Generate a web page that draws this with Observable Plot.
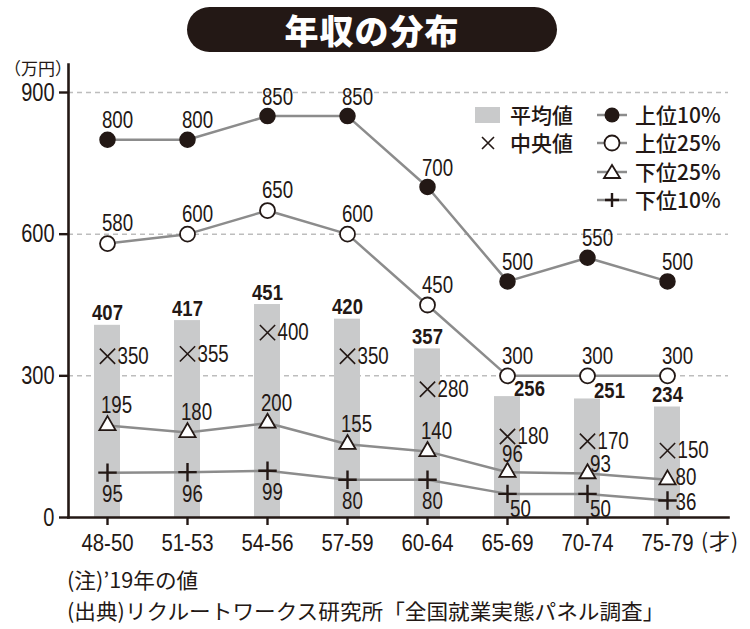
<!DOCTYPE html>
<html><head><meta charset="utf-8">
<script src="https://cdn.jsdelivr.net/npm/d3@7"></script>
<script src="https://cdn.jsdelivr.net/npm/@observablehq/plot@0.6"></script>
<style>
body{margin:0;background:#fff;}
#wrap{position:relative;width:750px;height:629px;overflow:hidden;font-family:"Noto Sans CJK JP",sans-serif;color:#231815;}
#chart{position:absolute;left:0;top:0;}
#title{position:absolute;left:187px;top:7px;width:370px;height:45px;border-radius:23px;background:#231815;color:#fff;font-size:34px;font-weight:900;text-align:center;line-height:45px;letter-spacing:1px;}
.ov{position:absolute;white-space:nowrap;line-height:1;}
#unitY{left:4px;top:59px;font-size:17px;}
#unitX{left:701px;top:530px;font-size:21px;letter-spacing:1px;}
#notes{left:67px;top:564px;font-size:21px;line-height:31px;transform:scaleX(1.03);transform-origin:left top;}
#legend{position:absolute;left:470px;top:100px;width:275px;height:115px;}
</style></head>
<body>
<div id="wrap">
  <div id="chart"></div>
  <div id="title">年収の分布</div>
  <div class="ov" id="unitY">（万円）</div>
  <div class="ov" id="unitX">(才)</div>
  <div class="ov" id="notes">(注)’19年の値<br>(出典)リクルートワークス研究所「全国就業実態パネル調査」</div>
  <svg id="legend"></svg>
</div>
<script>
const ages = ["48-50","51-53","54-56","57-59","60-64","65-69","70-74","75-79"];
const meanVals = [407,417,451,420,357,256,251,234];
const medianVals = [350,355,400,350,280,180,170,150];
const top10 = [800,800,850,850,700,500,550,500];
const top25 = [580,600,650,600,450,300,300,300];
const bottom25 = [195,180,200,155,140,96,93,80];
const bottom10 = [95,96,99,80,80,50,50,36];
const yTicks = [0,300,600,900];
const seriesNames = ["上位10%","上位25%","下位25%","下位10%"];

const numFont = "'Liberation Sans',Arimo,Arial,sans-serif";
const ink = "#231815";
const lineGray = "#8c8c8c";
const barGray = "#c9cacb";

const rows = ages.map((age,i)=>({age,i,mean:meanVals[i],median:medianVals[i],t10:top10[i],t25:top25[i],b25:bottom25[i],b10:bottom10[i]}));

const txt = {fontFamily:numFont, fontSize:24, fill:ink, className:"lbl"};
const btxt = {fontFamily:numFont, fontSize:22, fill:ink, fontWeight:"bold", className:"blbl"};

const chart = Plot.plot({
  width:750, height:629,
  marginLeft:68, marginRight:22, marginTop:64, marginBottom:112,
  insetTop:28, insetRight:22,
  style:{background:"transparent", fontFamily:numFont},
  x:{type:"band", domain:ages, paddingInner:0.675, paddingOuter:0.325, axis:null},
  y:{domain:[0,900], axis:null},
  marks:[
    Plot.ruleY(yTicks.filter(d=>d>0), {stroke:"#bdbdbd", strokeWidth:1.5, strokeDasharray:"5,4"}),
    Plot.barY(rows, {x:"age", y:"mean", fill:barGray}),
    // lines
    Plot.line(rows, {x:"age", y:"t10", stroke:lineGray, strokeWidth:2.5}),
    Plot.line(rows, {x:"age", y:"t25", stroke:lineGray, strokeWidth:2.5}),
    Plot.line(rows, {x:"age", y:"b25", stroke:lineGray, strokeWidth:2.5}),
    Plot.line(rows, {x:"age", y:"b10", stroke:lineGray, strokeWidth:2.5}),
    // markers
    Plot.dot(rows, {x:"age", y:"t10", r:7.5, fill:ink, stroke:ink}),
    Plot.dot(rows, {x:"age", y:"t25", r:7.5, fill:"#fff", stroke:ink, strokeWidth:1.8}),
    Plot.dot(rows, {x:"age", y:"b25", symbol:"triangle", r:6, fill:"#fff", stroke:ink, strokeWidth:1.8}),
    Plot.dot(rows, {x:"age", y:"b10", symbol:"plus", r:6, stroke:ink, strokeWidth:2.4}),
    Plot.dot(rows, {x:"age", y:"median", symbol:"times", r:7, stroke:ink, strokeWidth:1.6, dy:4}),
    // labels
    Plot.text(rows, {x:"age", y:"t10", text:d=>d.t10, dx:10, dy:-19, ...txt}),
    Plot.text(rows, {x:"age", y:"t25", text:d=>d.t25, dx:10, dy:-20, ...txt}),
    Plot.text(rows, {filter:d=>d.i<5||d.i===7, x:"age", y:"mean", text:d=>d.mean, dy:-12, ...btxt}),
    Plot.text(rows, {filter:d=>d.i===5||d.i===6, x:"age", y:"mean", text:d=>d.mean, dx:22, dy:-8, ...btxt}),
    Plot.text(rows, {x:"age", y:"median", text:d=>d.median, textAnchor:"start", dx:10, dy:4, ...txt}),
    Plot.text(rows, {filter:d=>d.i<5, x:"age", y:"b25", text:d=>d.b25, dx:9, dy:-20, ...txt}),
    Plot.text(rows, {filter:d=>d.i===5, x:"age", y:"b25", text:d=>d.b25, dx:5, dy:-18, ...txt}),
    Plot.text(rows, {filter:d=>d.i===6, x:"age", y:"b25", text:d=>d.b25, dx:13, dy:-9, ...txt}),
    Plot.text(rows, {filter:d=>d.i===7, x:"age", y:"b25", text:d=>d.b25, textAnchor:"start", dx:8, dy:-2, ...txt}),
    Plot.text(rows, {filter:d=>d.i<5, x:"age", y:"b10", text:d=>d.b10, dx:5, dy:22, ...txt}),
    Plot.text(rows, {filter:d=>d.i===5||d.i===6, x:"age", y:"b10", text:d=>d.b10, dx:13, dy:15, ...txt}),
    Plot.text(rows, {filter:d=>d.i===7, x:"age", y:"b10", text:d=>d.b10, textAnchor:"start", dx:8, dy:2, ...txt}),
    // axes
    Plot.axisY({ticks:yTicks, tickSize:9, tickPadding:5, fontSize:25, tickFormat:d=>String(d), strokeWidth:2.4, stroke:ink, fill:ink, label:null}),
    Plot.axisX({tickSize:8, tickPadding:8, fontSize:24, strokeWidth:2.4, stroke:ink, fill:ink, label:null}),
    Plot.frame({anchor:"left", stroke:ink, strokeWidth:2.6}),
    Plot.frame({anchor:"bottom", stroke:ink, strokeWidth:2.6})
  ]
});
// condense numeric glyphs around their anchors (narrow typeface look)
function condense(sel, k){
  d3.select(chart).selectAll(sel).each(function(){
    const t = this.getAttribute("transform") || "";
    this.setAttribute("transform", t + ` scale(${k},1)`);
  });
}
condense("g.lbl text", 0.78);
condense("g.blbl text", 0.84);
condense("g[aria-label='x-axis tick label'] text", 0.85);
condense("g[aria-label='y-axis tick label'] text", 0.8);
document.getElementById("chart").appendChild(chart);

// legend
const lg = d3.select("#legend");
const jp = "'Noto Sans CJK JP',sans-serif";
const rowY = [15,43,72,100];
const lgText = (x,y,s)=>lg.append("text").attr("x",x).attr("y",y).attr("dy","0.36em").attr("font-family",jp).attr("font-size",21).attr("font-weight",500).attr("fill",ink).text(s);
lg.append("rect").attr("x",5).attr("y",7).attr("width",25).attr("height",16).attr("fill",barGray);
lgText(40,rowY[0],"平均値");
lg.append("path").attr("d",`M12,${rowY[1]-6}L24,${rowY[1]+6}M24,${rowY[1]-6}L12,${rowY[1]+6}`).attr("stroke",ink).attr("stroke-width",1.6);
lgText(40,rowY[1],"中央値");
seriesNames.forEach((name,k)=>{
  const y = rowY[k];
  lg.append("line").attr("x1",127).attr("x2",157).attr("y1",y).attr("y2",y).attr("stroke",lineGray).attr("stroke-width",2.5);
  const cx = 142;
  if(k===0) lg.append("circle").attr("cx",cx).attr("cy",y).attr("r",7.5).attr("fill",ink);
  if(k===1) lg.append("circle").attr("cx",cx).attr("cy",y).attr("r",7.5).attr("fill","#fff").attr("stroke",ink).attr("stroke-width",1.8);
  if(k===2) lg.append("path").attr("d",`M${cx},${y-7}L${cx+8},${y+6}L${cx-8},${y+6}Z`).attr("fill","#fff").attr("stroke",ink).attr("stroke-width",1.8);
  if(k===3) lg.append("path").attr("d",`M${cx-7},${y}L${cx+7},${y}M${cx},${y-7}L${cx},${y+7}`).attr("stroke",ink).attr("stroke-width",2.4);
  lgText(165,y,name);
});
</script>
</body></html>
